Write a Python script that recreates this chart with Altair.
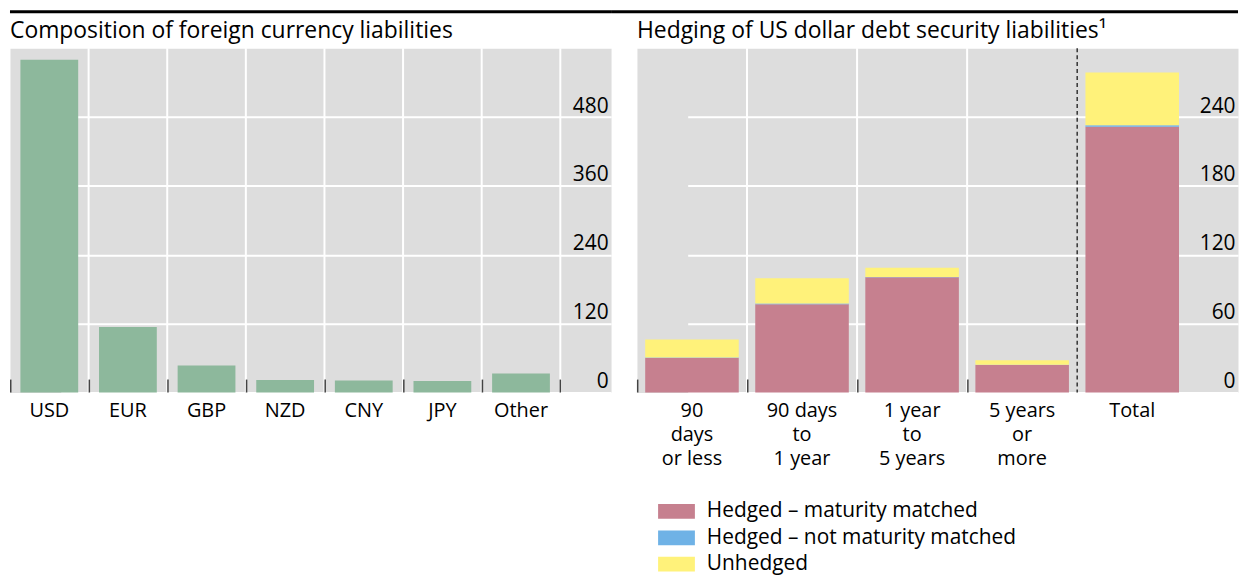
import altair as alt
import pandas as pd

# ---------------- data ----------------
currencies = ["USD", "EUR", "GBP", "NZD", "CNY", "JPY", "Other"]
currency_values = [580, 114, 47, 22, 21, 20, 33]

maturities = ["90 days or less", "90 days to 1 year", "1 year to 5 years", "5 years or more", "Total"]
maturity_label_lines = [["90", "days", "or less"], ["90 days", "to", "1 year"],
                        ["1 year", "to", "5 years"], ["5 years", "or", "more"], ["Total"]]
series = ["Hedged – maturity matched", "Hedged – not maturity matched", "Unhedged"]
matched = [30, 77, 100.5, 24, 231.5]
not_matched = [0.6, 0.5, 0.2, 0.1, 1.4]
unhedged = [15.5, 22, 8, 4, 46]

left_ticks = [0, 120, 240, 360, 480]
right_ticks = [0, 60, 120, 180, 240]

title_left = "Composition of foreign currency liabilities"
title_right = "Hedging of US dollar debt security liabilities¹"

# ---------------- styles ----------------
FONT = "Open Sans"
FS = 21
XFS = 20
W, H = 604, 346
GAP = 26
BAND_RANGE = 553
GREEN = "#8db89c"
COLORS = ["#c6808f", "#6fb2e6", "#fff27a"]

left_df = pd.DataFrame({"currency": currencies, "value": currency_values})
rows = []
for i, m in enumerate(maturities):
    for j, vals in enumerate([matched, not_matched, unhedged]):
        rows.append({"maturity": m, "series": series[j], "value": vals[i], "order": j})
right_df = pd.DataFrame(rows)
right_cats = pd.DataFrame({"maturity": maturities})
one = pd.DataFrame({"k": [0]})


def title_mark(text):
    return alt.Chart(one).mark_text(align="left", baseline="alphabetic", fontSize=23, font=FONT,
                                    color="black").encode(
        x=alt.value(0), y=alt.value(-10), text=alt.value(text))


def y_axis(vals):
    return alt.Axis(orient="right", values=vals, title=None, domain=False, ticks=False, tickSize=0,
                    grid=True, gridColor="white", gridWidth=2, labelAlign="right", labelPadding=-3,
                    labelBaseline="alphabetic", labelOffset=-5, labelFontSize=FS, labelFont=FONT,
                    labelColor="black")


# ---------------- left panel ----------------
pl = 0.265
step_l = BAND_RANGE / len(currencies)
off_l = step_l * pl / 2
xl_scale = alt.Scale(domain=currencies, range=[0, BAND_RANGE], paddingInner=pl, paddingOuter=pl / 2)
xl_axis = alt.Axis(title=None, labelAngle=0, domain=False, ticks=False, tickSize=0, grid=False,
                   labelPadding=8, labelFontSize=XFS, labelFont=FONT, labelColor="black")

l_grid = alt.Chart(left_df).mark_rule(color="white", strokeWidth=2, xOffset=off_l).encode(
    x=alt.X("currency:N", scale=xl_scale, bandPosition=1, axis=xl_axis),
    y=alt.value(0), y2=alt.value(H))
l_bars = alt.Chart(left_df).mark_bar(color=GREEN).encode(
    x=alt.X("currency:N", scale=xl_scale, axis=xl_axis),
    y=alt.Y("value:Q", scale=alt.Scale(domain=[0, 600], nice=False), axis=y_axis(left_ticks)))
l_ticks = alt.Chart(left_df).mark_rule(color="#444", strokeWidth=1.5, xOffset=-off_l + 0.75).encode(
    x=alt.X("currency:N", scale=xl_scale, bandPosition=0, axis=xl_axis),
    y=alt.value(H - 13), y2=alt.value(H))
l_tick_end = alt.Chart(left_df).transform_filter(
    alt.datum.currency == currencies[-1]).mark_rule(color="#444", strokeWidth=1.5, xOffset=off_l).encode(
    x=alt.X("currency:N", scale=xl_scale, bandPosition=1, axis=xl_axis),
    y=alt.value(H - 13), y2=alt.value(H))
l_line = alt.Chart(one).mark_rule(color="black", strokeWidth=3).encode(
    x=alt.value(0), x2=alt.value(W), y=alt.value(-36.5))

left = alt.layer(l_grid, l_bars, l_ticks, l_tick_end, l_line, title_mark(title_left)).properties(
    width=W, height=H)

# ---------------- right panel ----------------
pr = 0.15
step_r = BAND_RANGE / len(maturities)
off_r = step_r * pr / 2
label_expr = "''"
for cat, lines in reversed(list(zip(maturities, maturity_label_lines))):
    arr = "[" + ", ".join("'" + s + "'" for s in lines) + "]"
    label_expr = f"datum.label == '{cat}' ? {arr} : ({label_expr})"

xr_scale = alt.Scale(domain=maturities, range=[0, BAND_RANGE], paddingInner=pr, paddingOuter=pr / 2)
xr_axis = alt.Axis(title=None, labelAngle=0, domain=False, ticks=False, tickSize=0, grid=False,
                   labelPadding=8, labelFontSize=XFS, labelFont=FONT, labelColor="black",
                   labelExpr=label_expr, labelLineHeight=24)

r_grid = alt.Chart(right_cats).transform_filter(
    alt.FieldOneOfPredicate(field="maturity", oneOf=maturities[:3])).mark_rule(
    color="white", strokeWidth=2, xOffset=off_r).encode(
    x=alt.X("maturity:N", scale=xr_scale, bandPosition=1, axis=xr_axis),
    y=alt.value(0), y2=alt.value(H))
r_bars = alt.Chart(right_df).mark_bar().encode(
    x=alt.X("maturity:N", scale=xr_scale, axis=xr_axis),
    y=alt.Y("sum(value):Q", scale=alt.Scale(domain=[0, 300], nice=False), axis=y_axis(right_ticks),
            stack="zero"),
    color=alt.Color("series:N", scale=alt.Scale(domain=series, range=COLORS),
                    legend=alt.Legend(title=None, orient="none", legendX=W + GAP + 29.25, legendY=455,
                                      symbolType="M-2,-0.8H2V0.8H-2Z", symbolSize=342,
                                      symbolStrokeWidth=0, symbolOpacity=1, labelFontSize=FS,
                                      labelFont=FONT, labelColor="black", labelOffset=20,
                                      labelLimit=400, rowPadding=4.5)),
    order=alt.Order("order:Q"))
r_ticks = alt.Chart(right_cats).transform_filter(
    alt.FieldOneOfPredicate(field="maturity", oneOf=maturities[:4])).mark_rule(
    color="#444", strokeWidth=1.5, xOffset=-off_r + 0.75).encode(
    x=alt.X("maturity:N", scale=xr_scale, bandPosition=0, axis=xr_axis),
    y=alt.value(H - 13), y2=alt.value(H))
r_dash = alt.Chart(right_cats).transform_filter(
    alt.datum.maturity == maturities[3]).mark_rule(
    color="#333", strokeWidth=1.5, strokeDash=[4, 3], xOffset=off_r).encode(
    x=alt.X("maturity:N", scale=xr_scale, bandPosition=1, axis=xr_axis),
    y=alt.value(0), y2=alt.value(H))
r_line = alt.Chart(one).mark_rule(color="black", strokeWidth=3).encode(
    x=alt.value(-GAP), x2=alt.value(W), y=alt.value(-36.5))

right = alt.layer(r_grid, r_bars, r_ticks, r_dash, r_line, title_mark(title_right)).properties(
    width=W, height=H)

chart = alt.hconcat(left, right, spacing=GAP, bounds="flush").properties(padding=0).configure(
    font=FONT).configure_view(fill="#dddddd", stroke="transparent")

chart.save("out.html", embed_options={"renderer": "svg", "actions": False})
